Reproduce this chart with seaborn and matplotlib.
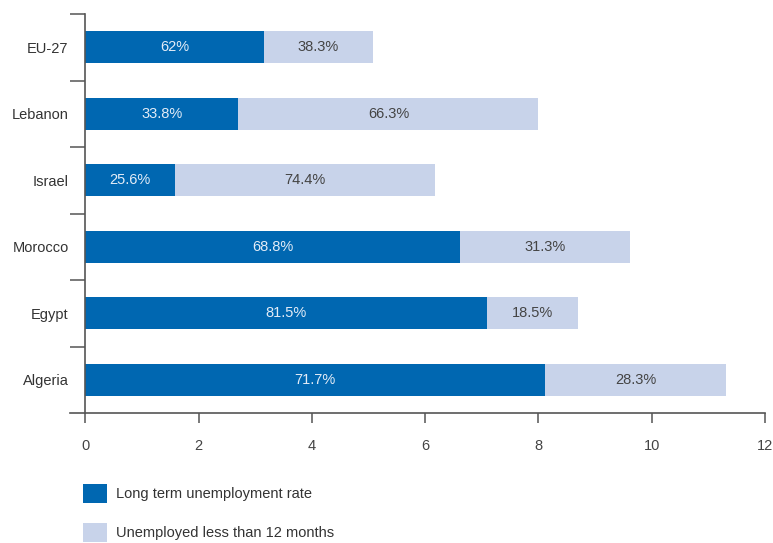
import numpy as np
import pandas as pd
import matplotlib
matplotlib.use("Agg")
import matplotlib.pyplot as plt
from matplotlib.patches import Patch
from matplotlib.ticker import FixedLocator
import seaborn as sns

countries = ["EU-27", "Lebanon", "Israel", "Morocco", "Egypt", "Algeria"]
total_rate = [5.08, 8.0, 6.18, 9.62, 8.7, 11.32]
long_share = [62, 33.8, 25.6, 68.8, 81.5, 71.7]
short_share = [38.3, 66.3, 74.4, 31.3, 18.5, 28.3]
x_ticks = [0, 2, 4, 6, 8, 10, 12]

DARK = "#0067b1"
LIGHT = "#c8d3ea"
AXIS = "#555555"

sns.set_style("white")
plt.rcParams["font.family"] = ["Liberation Sans", "DejaVu Sans"]

df = pd.DataFrame({
    "country": countries,
    "total": total_rate,
    "long_share": long_share,
    "short_share": short_share,
})
df["long"] = df["total"] * df["long_share"] / 100

fig = plt.figure(figsize=(7.73, 5.43), dpi=100)
ax = fig.add_axes([70 / 773, 1 - 413 / 543, (765 - 70) / 773, (413 - 14) / 543])

sns.barplot(data=df, y="country", x="total", orient="h", color=LIGHT,
            width=0.48, saturation=1, ax=ax, errorbar=None, linewidth=0)
sns.barplot(data=df, y="country", x="long", orient="h", color=DARK,
            width=0.48, saturation=1, ax=ax, errorbar=None, linewidth=0)

for i, row in df.iterrows():
    ax.text(row["long"] / 2, i, f"{row['long_share']:g}%", ha="center",
            va="center", color="#e3ecf7", fontsize=10.5)
    ax.text((row["long"] + row["total"]) / 2, i, f"{row['short_share']:g}%",
            ha="center", va="center", color="#444444", fontsize=10.5)

ax.set_xlim(-0.27, 12)
ax.set_ylim(5.5, -0.5)
ax.set_xlabel("")
ax.set_ylabel("")

ax.spines["top"].set_visible(False)
ax.spines["right"].set_visible(False)
ax.spines["left"].set_position(("data", 0))
for s in ("left", "bottom"):
    ax.spines[s].set_color(AXIS)
    ax.spines[s].set_linewidth(1.2)

ax.xaxis.set_major_locator(FixedLocator(x_ticks))
ax.set_xticklabels([str(t) for t in x_ticks])
ax.tick_params(axis="x", direction="out", length=7, width=1.1, color=AXIS,
               labelsize=10.5, labelcolor="#444444", pad=12, bottom=True)

ax.yaxis.set_minor_locator(FixedLocator(np.arange(-0.5, 5.0, 1.0)))
ax.tick_params(axis="y", which="major", length=0, labelsize=10.5,
               labelcolor="#333333", pad=12)
ax.tick_params(axis="y", which="minor", direction="out", length=11,
               width=1.1, color=AXIS, left=True)

handles = [
    Patch(facecolor=DARK, edgecolor="none", label="Long term unemployment rate"),
    Patch(facecolor=LIGHT, edgecolor="none", label="Unemployed less than 12 months"),
]
fig.legend(handles=handles, loc="upper left",
           bbox_to_anchor=(83 / 773, 1 - 484 / 543), frameon=False,
           fontsize=10.5, handlelength=1.65, handleheight=1.65,
           handletextpad=0.6, labelspacing=1.35, borderpad=0,
           borderaxespad=0, labelcolor="#333333")

fig.savefig("out.png", dpi=100)
